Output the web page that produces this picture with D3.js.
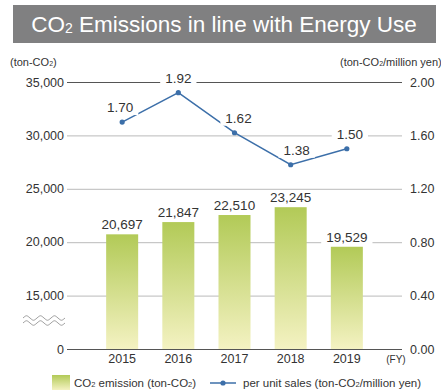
<!DOCTYPE html>
<html>
<head>
<meta charset="utf-8">
<script src="https://cdn.jsdelivr.net/npm/d3@7"></script>
<style>
  body { margin: 0; background: #fff; }
  svg { display: block; font-family: "Liberation Sans", Arial, sans-serif; }
</style>
</head>
<body>
<svg id="chart" width="441" height="390"></svg>
<script>
let years = ['2015', '2016', '2017', '2018', '2019']
let emissions = [20697, 21847, 22510, 23245, 19529]
let perSales = [1.70, 1.92, 1.62, 1.38, 1.50]
let leftTicks = [0, 15000, 20000, 25000, 30000, 35000]
let rightTicks = [0, 0.4, 0.8, 1.2, 1.6, 2.0]

let svg = d3.select('#chart')

// x scale for bars
let x = d3.scaleBand()
  .domain(years)
  .range([82, 387])
  .paddingInner(0.43)
  .paddingOuter(0.43)

// broken left axis: 0 then 15,000 upward
let yLeft = d3.scaleLinear()
  .domain([0, 15000, 35000])
  .range([349, 295, 82])

let yRight = d3.scaleLinear()
  .domain([0, 2])
  .range([349, 82])

let defs = svg.append('defs')
let grad = defs.append('linearGradient')
  .attr('id', 'barGrad')
  .attr('x1', 0).attr('y1', 0).attr('x2', 0).attr('y2', 1)
grad.append('stop').attr('offset', '0%').attr('stop-color', '#b2ca57')
grad.append('stop').attr('offset', '100%').attr('stop-color', '#f4f2c2')

// title
svg.append('rect')
  .attr('x', 13).attr('y', 5)
  .attr('width', 423).attr('height', 38)
  .attr('fill', '#808081')
let title = svg.append('text')
  .attr('x', 224).attr('y', 32)
  .attr('text-anchor', 'middle')
  .attr('fill', '#fff')
  .attr('font-size', 22.5)
title.append('tspan').text('CO')
title.append('tspan').text('2').attr('font-size', 14).attr('dy', 1)
title.append('tspan').text(' Emissions in line with Energy Use').attr('dy', -1)

// unit labels
let unitL = svg.append('text')
  .attr('x', 10).attr('y', 66)
  .attr('font-size', 11)
  .attr('fill', '#333')
unitL.append('tspan').text('(ton-CO')
unitL.append('tspan').text('2').attr('font-size', 7)
unitL.append('tspan').text(')')

let unitR = svg.append('text')
  .attr('x', 340).attr('y', 66)
  .attr('font-size', 11)
  .attr('fill', '#333')
unitR.append('tspan').text('(ton-CO')
unitR.append('tspan').text('2').attr('font-size', 7)
unitR.append('tspan').text('/million yen)')

// gridlines
svg.selectAll('.grid')
  .data(rightTicks)
  .enter()
  .append('line')
  .attr('x1', 67).attr('x2', 402)
  .attr('y1', (d) => yRight(d) + 0.5)
  .attr('y2', (d) => yRight(d) + 0.5)
  .attr('stroke', (d) => (d === 0 || d === 2) ? '#555' : '#bbb')
  .attr('stroke-width', 1)

// left tick labels
svg.selectAll('.ltick')
  .data(leftTicks)
  .enter()
  .append('text')
  .attr('x', 64)
  .attr('y', (d) => yLeft(d) + 4.5)
  .attr('text-anchor', 'end')
  .attr('font-size', 12.5)
  .attr('fill', '#333')
  .text((d) => d3.format(',')(d))

// right tick labels
svg.selectAll('.rtick')
  .data(rightTicks)
  .enter()
  .append('text')
  .attr('x', 410)
  .attr('y', (d) => yRight(d) + 4.5)
  .attr('font-size', 12.5)
  .attr('fill', '#333')
  .text((d) => d.toFixed(2))

// axis break mark
let wave = (y0) => {
  let p = d3.path()
  p.moveTo(23, y0)
  for (let i = 0; i < 3; i++) {
    let sx = 23 + i * 14
    p.bezierCurveTo(sx + 3.5, y0 - 3, sx + 3.5, y0 - 3, sx + 7, y0)
    p.bezierCurveTo(sx + 10.5, y0 + 3, sx + 10.5, y0 + 3, sx + 14, y0)
  }
  return p.toString()
}
svg.selectAll('.wave')
  .data([318, 323])
  .enter()
  .append('path')
  .attr('d', (d) => wave(d))
  .attr('fill', 'none')
  .attr('stroke', '#888')
  .attr('stroke-width', 0.8)

// bars
svg.selectAll('.bar')
  .data(emissions)
  .enter()
  .append('rect')
  .attr('x', (d, i) => x(years[i]))
  .attr('y', (d) => yLeft(d))
  .attr('width', x.bandwidth())
  .attr('height', (d) => yLeft(0) - yLeft(d))
  .attr('fill', 'url(#barGrad)')

// redraw baseline on top of bars
svg.append('line')
  .attr('x1', 67).attr('x2', 402)
  .attr('y1', yRight(0) + 0.5).attr('y2', yRight(0) + 0.5)
  .attr('stroke', '#555')

// label with white background
let addLabel = (cx, y, txt) => {
  let g = svg.append('g')
  let t = g.append('text')
    .attr('x', cx).attr('y', y)
    .attr('text-anchor', 'middle')
    .attr('font-size', 13.5)
    .attr('fill', '#333')
    .text(txt)
  let b = t.node().getBBox()
  g.insert('rect', 'text')
    .attr('x', b.x - 5).attr('y', b.y)
    .attr('width', b.width + 10).attr('height', b.height)
    .attr('fill', '#fff')
}

emissions.forEach((d, i) => {
  addLabel(x(years[i]) + x.bandwidth() / 2, yLeft(d) - 5, d3.format(',')(d))
})

// line series
let line = d3.line()
  .x((d, i) => x(years[i]) + x.bandwidth() / 2)
  .y((d) => yRight(d))

svg.append('path')
  .datum(perSales)
  .attr('d', line)
  .attr('fill', 'none')
  .attr('stroke', '#3c6fa9')
  .attr('stroke-width', 1.5)

svg.selectAll('.dot')
  .data(perSales)
  .enter()
  .append('circle')
  .attr('cx', (d, i) => x(years[i]) + x.bandwidth() / 2)
  .attr('cy', (d) => yRight(d))
  .attr('r', 2.6)
  .attr('fill', '#3c6fa9')

let lineOffsets = [-2, 0, 4, 6, 3]
perSales.forEach((d, i) => {
  addLabel(x(years[i]) + x.bandwidth() / 2 + lineOffsets[i], yRight(d) - 10, d.toFixed(2))
})

// x labels
svg.selectAll('.xlab')
  .data(years)
  .enter()
  .append('text')
  .attr('x', (d) => x(d) + x.bandwidth() / 2)
  .attr('y', 363)
  .attr('text-anchor', 'middle')
  .attr('font-size', 12.5)
  .attr('fill', '#333')
  .text((d) => d)

svg.append('text')
  .attr('x', 396).attr('y', 363)
  .attr('text-anchor', 'middle')
  .attr('font-size', 10)
  .attr('fill', '#333')
  .text('(FY)')

// legend
svg.append('rect')
  .attr('x', 52).attr('y', 375)
  .attr('width', 18).attr('height', 15)
  .attr('fill', 'url(#barGrad)')
let lg1 = svg.append('text')
  .attr('x', 74).attr('y', 387)
  .attr('font-size', 11.5)
  .attr('fill', '#333')
lg1.append('tspan').text('CO')
lg1.append('tspan').text('2').attr('font-size', 7.5)
lg1.append('tspan').text(' emission (ton-CO')
lg1.append('tspan').text('2').attr('font-size', 7.5)
lg1.append('tspan').text(')')

svg.append('line')
  .attr('x1', 210).attr('x2', 236)
  .attr('y1', 383).attr('y2', 383)
  .attr('stroke', '#3c6fa9').attr('stroke-width', 1.5)
svg.append('circle')
  .attr('cx', 223).attr('cy', 383).attr('r', 2.6)
  .attr('fill', '#3c6fa9')
let lg2 = svg.append('text')
  .attr('x', 243).attr('y', 387)
  .attr('font-size', 11.5)
  .attr('fill', '#333')
lg2.append('tspan').text('per unit sales (ton-CO')
lg2.append('tspan').text('2').attr('font-size', 7.5)
lg2.append('tspan').text('/million yen)')
</script>
</body>
</html>
